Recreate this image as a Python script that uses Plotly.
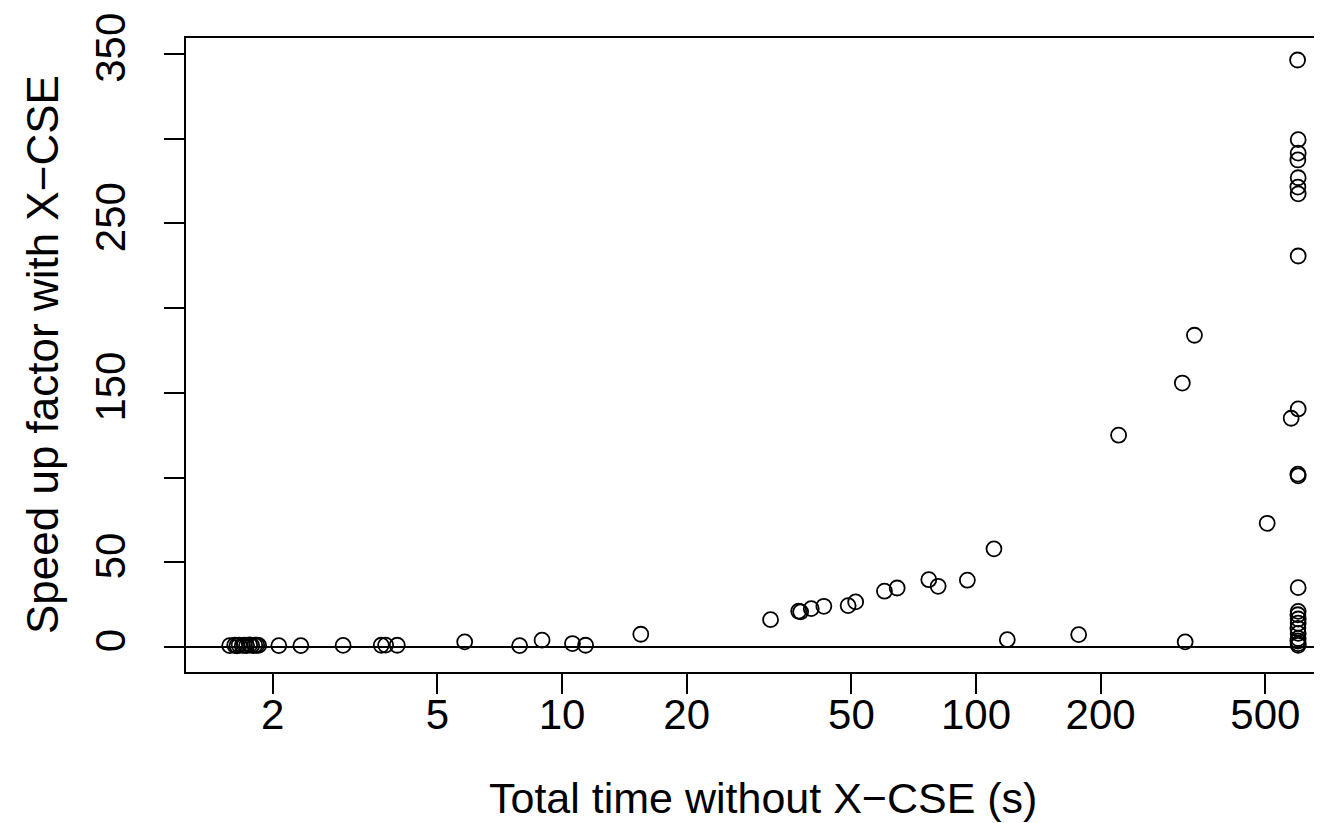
import plotly.graph_objects as go

# Total time without X-CSE (s)
time_s = [
    1.575, 1.62, 1.64, 1.66, 1.69, 1.71, 1.73, 1.76, 1.78, 1.81, 1.83, 1.85,
    2.07, 2.34, 2.96, 3.66, 3.75, 4.0, 5.82, 7.9, 8.95, 10.6, 11.4, 15.5,
    31.9, 37.3, 37.7, 40.0, 42.9, 49.1, 51.2, 60.1, 64.5, 76.9, 81.0, 95.3,
    110.5, 119.0, 177.0, 221.0, 315.0, 320.0, 337.0,
    598, 600, 600, 599, 600, 599, 600, 600, 600, 577, 599, 600, 505, 600,
    600, 599, 600, 600, 599, 600, 600, 599, 600, 600,
]
# Speed up factor with X-CSE
speedup = [
    0.8, 1.0, 0.7, 1.1, 0.9, 1.0, 0.8, 1.2, 0.9, 1.0, 1.1, 0.9,
    0.8, 0.8, 0.9, 1.0, 1.1, 1.0, 3.0, 0.8, 4.0, 2.0, 1.0, 7.5,
    16.1, 21.1, 20.7, 22.6, 24.0, 24.4, 26.6, 32.9, 34.8, 39.7, 35.8, 39.4,
    57.9, 4.3, 7.3, 125.0, 155.8, 3.0, 184.0,
    346.5, 299.5, 291.5, 287.5, 277.0, 271.5, 267.5, 230.8, 140.5, 135.0, 102.0, 101.0, 73.0, 35.0,
    21.0, 19.0, 16.5, 14.0, 11.0, 8.0, 5.0, 3.5, 2.0, 1.0,
]

x_ticks = [2, 5, 10, 20, 50, 100, 200, 500]
y_ticks = [0, 50, 100, 150, 200, 250, 300, 350]
y_tick_text = ["0", "50", "", "150", "", "250", "", "350"]

FONT = "Liberation Sans, Arial, Helvetica, sans-serif"
L, T, B = 178, 30, 664          # plot area edges in px
PW, PH = 1322 - L, B - T

fig = go.Figure()
fig.add_trace(go.Scatter(
    x=time_s, y=speedup, mode="markers",
    marker=dict(symbol="circle-open", size=15, color="black", line=dict(width=1.8, color="black")),
    showlegend=False,
))

fig.update_layout(
    width=1322, height=823,
    margin=dict(l=L, r=0, t=T, b=823 - B),
    paper_bgcolor="white", plot_bgcolor="white",
    font=dict(family=FONT, size=42, color="black"),
    xaxis=dict(
        type="log", range=[0.0918, 2.855],
        tickvals=x_ticks, ticktext=[str(v) for v in x_ticks],
        ticks="outside", ticklen=20, tickwidth=2, tickcolor="black",
        showline=True, linecolor="black", linewidth=2, mirror=True,
        showgrid=False, zeroline=False,
        tickfont=dict(size=42), ticklabelstandoff=-15,
    ),
    yaxis=dict(
        range=[-14.8, 359.5],
        tickvals=y_ticks, ticktext=y_tick_text, tickangle=-90,
        ticks="outside", ticklen=20, tickwidth=2, tickcolor="black",
        showline=True, linecolor="black", linewidth=2, mirror=False,
        showgrid=False, zeroline=True, zerolinecolor="black", zerolinewidth=2,
        tickfont=dict(size=42), ticklabelstandoff=22,
    ),
    annotations=[
        dict(text="Total time without X\u2212CSE (s)", xref="paper", yref="paper",
             x=(755 - L) / PW, y=(B - 790) / PH, xanchor="center", yanchor="middle",
             showarrow=False, font=dict(size=43)),
        dict(text="Speed up factor with X\u2212CSE", xref="paper", yref="paper",
             x=(34 - L) / PW, y=(B - 347) / PH, xanchor="center", yanchor="middle",
             textangle=-90, showarrow=False, font=dict(size=44)),
    ],
)

fig.write_html("out.html")
